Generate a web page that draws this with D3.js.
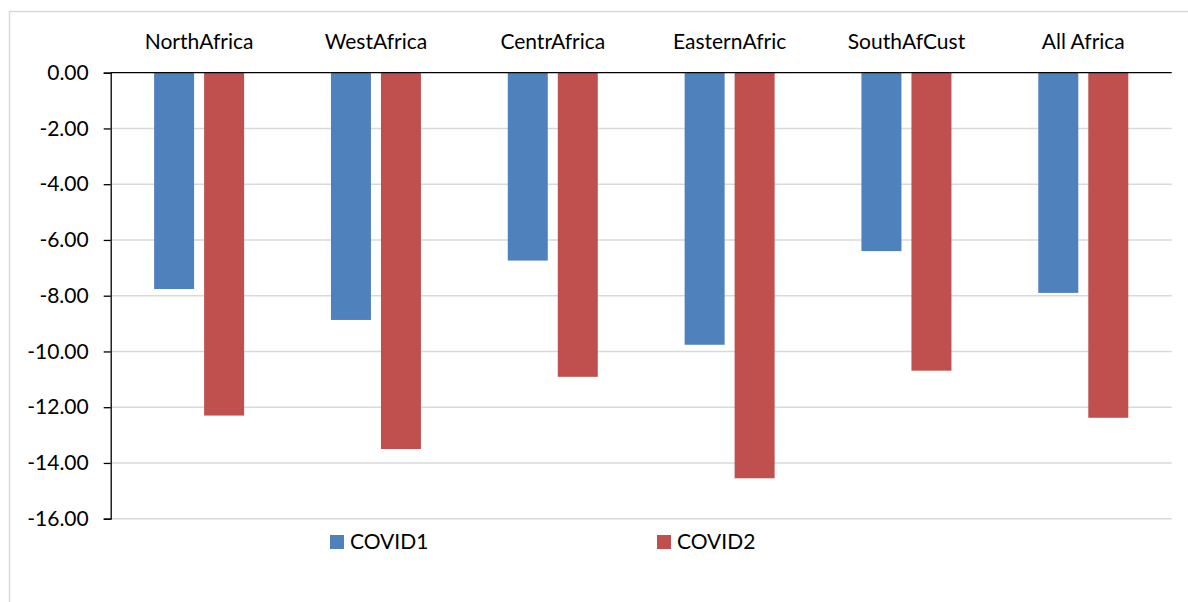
<html>
<head>
<meta charset="utf-8">
<script src="https://d3js.org/d3.v7.min.js"></script>
<style>
body { margin: 0; background: #fff; }
text { font-family: Lato, "Open Sans", sans-serif; fill: #000; }
</style>
</head>
<body>
<svg id="chart" width="1188" height="602"></svg>
<script>
var regions = ["NorthAfrica", "WestAfrica", "CentrAfrica", "EasternAfric", "SouthAfCust", "All Africa"];
var covid1 = [-7.76, -8.87, -6.74, -9.76, -6.40, -7.90];
var covid2 = [-12.30, -13.50, -10.91, -14.55, -10.69, -12.38];
var seriesNames = ["COVID1", "COVID2"];
var colors = ["#4f81bd", "#c0504d"];
var yTicks = [0, -2, -4, -6, -8, -10, -12, -14, -16];

var svg = d3.select("#chart");
var plotL = 110.7, plotR = 1171.7, plotT = 72.7, plotB = 518.7;
var fontSize = "21px";

// outer frame (cropped on right and bottom)
svg.append("path")
  .attr("d", "M9.5,602 L9.5,11.5 L1188,11.5")
  .attr("fill", "none").attr("stroke", "#d9d9d9").attr("stroke-width", 1.5);

var x = d3.scaleBand().domain(regions).range([plotL, plotR]);
var y = d3.scaleLinear().domain([0, -16]).range([plotT, plotB]);

// gridlines
svg.append("g").selectAll("line").data(yTicks.filter(function(d){ return d !== 0; })).enter()
  .append("line")
  .attr("x1", plotL).attr("x2", plotR)
  .attr("y1", function(d){ return y(d); }).attr("y2", function(d){ return y(d); })
  .attr("stroke", "#d9d9d9").attr("stroke-width", 1.5);

// bars
var barW = 40, gap = 10;
var rows = regions.map(function(r, i){ return {r: r, v: [covid1[i], covid2[i]]}; });
var groups = svg.append("g").selectAll("g").data(rows).enter().append("g");
groups.selectAll("rect").data(function(d){ return d.v.map(function(v, k){ return {r: d.r, v: v, k: k}; }); }).enter()
  .append("rect")
  .attr("x", function(d){ var c = x(d.r) + x.bandwidth() / 2; return d.k === 0 ? c - gap / 2 - barW : c + gap / 2; })
  .attr("y", y(0))
  .attr("width", barW)
  .attr("height", function(d){ return y(d.v) - y(0); })
  .attr("fill", function(d){ return colors[d.k]; });

// y axis
var fmt = d3.format(".2f");
var yAxis = svg.append("g").attr("transform", "translate(" + plotL + ",0)")
  .call(d3.axisLeft(y).tickValues(yTicks)
    .tickFormat(function(d){ return fmt(d).replace("\u2212", "-"); })
    .tickSize(7).tickPadding(15));
yAxis.select(".domain").attr("stroke", "#000").attr("stroke-width", 1.3);
yAxis.selectAll(".tick line").attr("stroke", "#000").attr("stroke-width", 1.3);
yAxis.selectAll(".tick text").style("font-size", fontSize).style("font-family", "Lato, 'Open Sans', sans-serif").attr("fill", "#000");

// zero line / category axis at top
svg.append("line").attr("x1", plotL).attr("x2", plotR).attr("y1", y(0)).attr("y2", y(0))
  .attr("stroke", "#000").attr("stroke-width", 1.3);

// category labels
svg.append("g").selectAll("text").data(regions).enter().append("text")
  .attr("x", function(d){ return x(d) + x.bandwidth() / 2; })
  .attr("y", 42)
  .attr("dy", "0.35em")
  .attr("text-anchor", "middle")
  .style("font-size", fontSize)
  .text(function(d){ return d; });

// legend
var legendX = [330, 657];
var leg = svg.append("g").selectAll("g").data(seriesNames).enter().append("g")
  .attr("transform", function(d, i){ return "translate(" + legendX[i] + ",535)"; });
leg.append("rect").attr("width", 14).attr("height", 14).attr("fill", function(d, i){ return colors[i]; });
leg.append("text").attr("x", 20).attr("y", 7).attr("dy", "0.35em").style("font-size", fontSize).text(function(d){ return d; });
</script>
</body>
</html>
